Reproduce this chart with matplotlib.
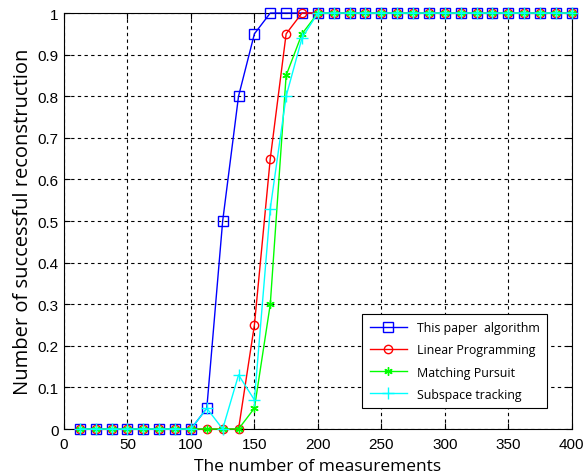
import matplotlib.pyplot as plt
import numpy as np

# measurements (x) and success rates for each method
measurements = np.arange(1, 33) * 12.5

this_paper = [0, 0, 0, 0, 0, 0, 0, 0, 0.05, 0.5, 0.8, 0.95, 1, 1, 1, 1,
              1, 1, 1, 1, 1, 1, 1, 1, 1, 1, 1, 1, 1, 1, 1, 1]
linear_prog = [0, 0, 0, 0, 0, 0, 0, 0, 0, 0, 0, 0.25, 0.65, 0.95, 1, 1,
               1, 1, 1, 1, 1, 1, 1, 1, 1, 1, 1, 1, 1, 1, 1, 1]
matching_pursuit = [0, 0, 0, 0, 0, 0, 0, 0, 0, 0, 0, 0.05, 0.3, 0.85, 0.95, 1,
                    1, 1, 1, 1, 1, 1, 1, 1, 1, 1, 1, 1, 1, 1, 1, 1]
subspace = [0, 0, 0, 0, 0, 0, 0, 0, 0.05, 0, 0.13, 0.07, 0.53, 0.8, 0.94, 1,
            1, 1, 1, 1, 1, 1, 1, 1, 1, 1, 1, 1, 1, 1, 1, 1]

labels = ['This paper  algorithm', 'Linear Programming',
          'Matching Pursuit', 'Subspace tracking']

fig = plt.figure(figsize=(5.84, 4.77), dpi=100)
ax = fig.add_axes([0.1096, 0.0985, 0.8694, 0.8721])

ax.plot(measurements, this_paper, color='#0000ff', lw=1, marker='s',
        ms=7, mfc='none', mew=1, clip_on=False, label=labels[0], zorder=3)
ax.plot(measurements, linear_prog, color='#ff0000', lw=1, marker='o',
        ms=6, mfc='none', mew=1, clip_on=False, label=labels[1], zorder=4)
ax.plot(measurements, matching_pursuit, color='#00ff00', lw=1, marker=(6, 2, 0),
        ms=6, mew=1, clip_on=False, label=labels[2], zorder=5)
ax.plot(measurements, subspace, color='#00ffff', lw=1, marker='+',
        ms=8, mew=1, clip_on=False, label=labels[3], zorder=6)

ax.set_xlim(0, 400)
ax.set_ylim(0, 1)
ax.set_xticks(np.arange(0, 401, 50))
ax.set_yticks(np.round(np.arange(0, 1.01, 0.1), 1))
ax.set_yticklabels(['0', '0.1', '0.2', '0.3', '0.4', '0.5', '0.6', '0.7',
                    '0.8', '0.9', '1'])
ax.tick_params(direction='in', top=True, right=True, length=4,
               labelsize=11)
ax.tick_params(axis='x', pad=6)
ax.tick_params(axis='y', pad=4)
for t in ax.get_xticklabels() + ax.get_yticklabels():
    t.set_fontfamily('Liberation Sans')
ax.grid(True, color='black', linestyle=(0, (3, 3)), linewidth=0.8)
ax.set_axisbelow(True)

ax.set_xlabel('The number of measurements', fontsize=12.5, family='Open Sans',
              labelpad=5)
ax.set_ylabel('Number of successful reconstruction', fontsize=14.5,
              family='Open Sans', labelpad=3)

leg = ax.legend(loc='lower right', bbox_to_anchor=(0.951, 0.05),
                prop={'family': 'Open Sans', 'size': 8.9},
                fancybox=False, edgecolor='black', framealpha=1,
                handlelength=3.0, borderpad=0.6, labelspacing=0.75,
                borderaxespad=0)
leg.get_frame().set_linewidth(0.8)

fig.savefig('out.png', dpi=100)
